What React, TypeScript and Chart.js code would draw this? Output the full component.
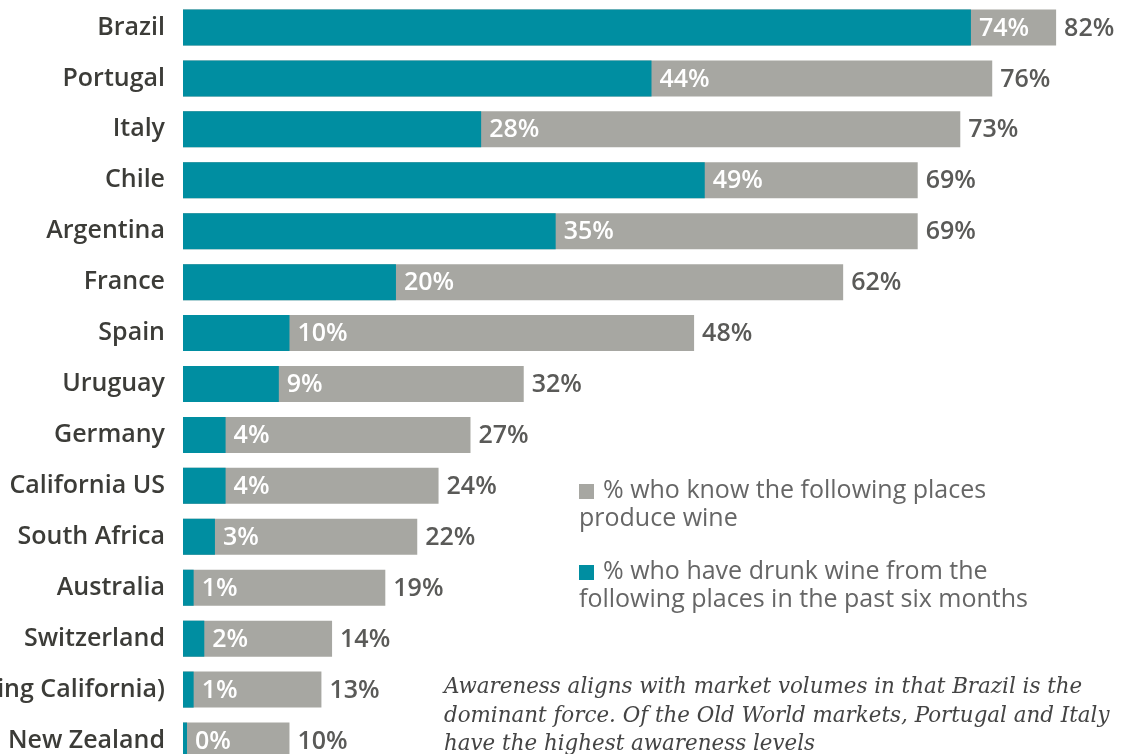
import React, { useEffect, useRef } from "react";
import { Chart, registerables } from "chart.js";

Chart.register(...registerables);

const categories = [
  "Brazil",
  "Portugal",
  "Italy",
  "Chile",
  "Argentina",
  "France",
  "Spain",
  "Uruguay",
  "Germany",
  "California US",
  "South Africa",
  "Australia",
  "Switzerland",
  "USA (excluding California)",
  "New Zealand",
];
const knowValues = [82, 76, 73, 69, 69, 62, 48, 32, 27, 24, 22, 19, 14, 13, 10];
const drunkValues = [74, 44, 28, 49, 35, 20, 10, 9, 4, 4, 3, 1, 2, 1, 0];

const knowLabel = "% who know the following places";
const knowLabel2 = "produce wine";
const drunkLabel = "% who have drunk wine from the";
const drunkLabel2 = "following places in the past six months";
const captionLines = [
  "Awareness aligns with market volumes in that Brazil is the",
  "dominant force. Of the Old World markets, Portugal and Italy",
  "have the highest awareness levels",
];

const TEAL = "#008ea1";
const GREY = "#a7a7a2";
const FONT = "'Open Sans', sans-serif";

const valueLabelPlugin = {
  id: "valueLabels",
  afterDatasetsDraw(chart: any) {
    const ctx = chart.ctx;
    ctx.save();
    ctx.font = `600 25px ${FONT}`;
    ctx.textBaseline = "middle";
    ctx.textAlign = "left";
    chart.data.datasets.forEach((ds: any, di: number) => {
      const meta = chart.getDatasetMeta(di);
      meta.data.forEach((el: any, i: number) => {
        const v = ds.data[i];
        const inner = ds.label === drunkLabel;
        ctx.fillStyle = inner ? "#ffffff" : "#5a5a58";
        ctx.fillText(`${v}%`, el.x + (inner ? 8 : 8), el.y + 1);
      });
    });
    ctx.restore();
  },
};

export default function App() {
  const ref = useRef<HTMLCanvasElement>(null);
  useEffect(() => {
    const canvas = ref.current;
    if (!canvas) return;
    const chart = new Chart(canvas, {
      type: "bar",
      data: {
        labels: categories,
        datasets: [
          {
            label: drunkLabel,
            data: drunkValues,
            backgroundColor: TEAL,
            minBarLength: 4,
            barPercentage: 0.707,
            categoryPercentage: 1,
            grouped: false,
          } as any,
          {
            label: knowLabel,
            data: knowValues,
            backgroundColor: GREY,
            barPercentage: 0.707,
            categoryPercentage: 1,
            grouped: false,
          } as any,
        ],
      },
      options: {
        indexAxis: "y",
        animation: false,
        responsive: false,
        layout: { padding: { top: 2, bottom: 0, left: 0, right: 4 } },
        plugins: { legend: { display: false }, tooltip: { enabled: false } },
        scales: {
          x: {
            display: false,
            min: 0,
            max: 88,
          },
          y: {
            grid: { display: false, drawTicks: false },
            border: { display: false },
            ticks: {
              padding: 18,
              color: "#3c3c38",
              font: { family: FONT, size: 25, weight: "600" as any },
              autoSkip: false,
            },
            afterFit(axis: any) {
              axis.width = 183;
              axis.paddingTop = 0;
              axis.paddingBottom = 0;
            },
          },
        },
      },
      plugins: [valueLabelPlugin],
    });
    return () => chart.destroy();
  }, []);

  const sq = (c: string) => (
    <span
      style={{
        display: "inline-block",
        width: 15,
        height: 15,
        background: c,
        marginRight: 9,
        verticalAlign: "-1px",
      }}
    />
  );

  return (
    <div
      style={{
        position: "fixed",
        left: 0,
        top: 0,
        width: 1124,
        height: 754,
        overflow: "hidden",
        background: "#ffffff",
      }}
    >
      <canvas
        ref={ref}
        width={1124}
        height={766}
        style={{ position: "absolute", left: 0, top: 0, width: 1124, height: 766 }}
      />
      <div
        style={{
          position: "absolute",
          left: 579,
          top: 474,
          fontFamily: FONT,
          fontSize: 25,
          lineHeight: "28px",
          color: "#666666",
          whiteSpace: "nowrap",
        }}
      >
        <div>
          {sq(GREY)}
          {knowLabel}
          <br />
          {knowLabel2}
        </div>
        <div style={{ marginTop: 25 }}>
          {sq(TEAL)}
          {drunkLabel}
          <br />
          {drunkLabel2}
        </div>
      </div>
      <div
        style={{
          position: "absolute",
          left: 444,
          top: 672,
          fontFamily: "'DejaVu Serif', serif",
          fontStyle: "italic",
          fontSize: 21.4,
          lineHeight: "28.5px",
          color: "#444444",
          whiteSpace: "nowrap",
        }}
      >
        {captionLines.map((l, i) => (
          <div key={i}>{l}</div>
        ))}
      </div>
    </div>
  );
}
